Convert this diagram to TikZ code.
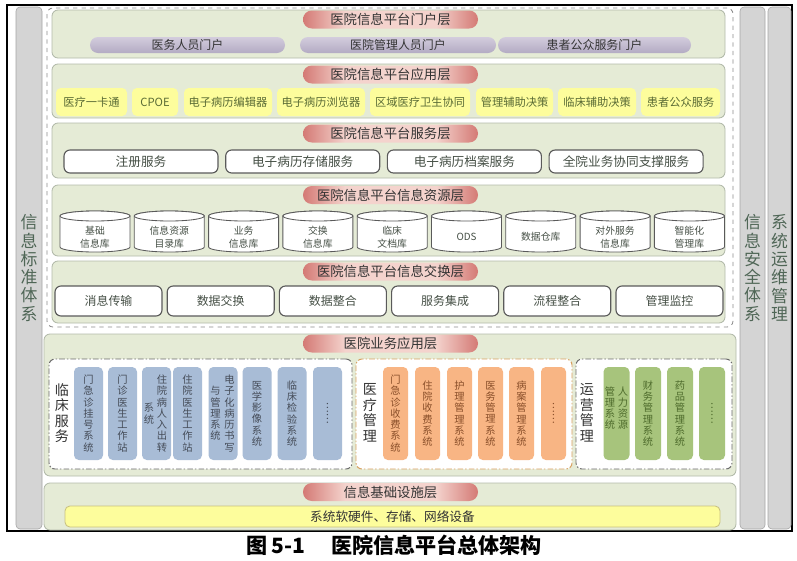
\documentclass[tikz,border=0pt]{standalone}
\usepackage{fontspec}
\setmainfont{Noto Sans CJK SC}
\definecolor{layerfill}{HTML}{E5EBD6}
\definecolor{layerline}{HTML}{B2BAAA}
\definecolor{barfill}{HTML}{D4D4D4}
\definecolor{barline}{HTML}{A4A4A4}
\definecolor{bartext}{HTML}{4F6656}
\definecolor{dashline}{HTML}{8C8C8C}
\definecolor{pillin}{HTML}{F4D3CD}
\definecolor{pillout}{HTML}{D47A75}
\definecolor{titletext}{HTML}{333333}
\definecolor{portaltop}{HTML}{D3CCDD}
\definecolor{portalmid}{HTML}{FAF9FB}
\definecolor{portalbot}{HTML}{B3ABC3}
\definecolor{appfill}{HTML}{FDFD9C}
\definecolor{apptext}{HTML}{5A6B35}
\definecolor{infraline}{HTML}{C8C080}
\definecolor{boxline}{HTML}{5A5A5A}
\definecolor{boxtext}{HTML}{454F45}
\definecolor{grpline}{HTML}{6A6A6A}
\definecolor{orangeline}{HTML}{D8A060}
\definecolor{bluefill}{HTML}{A8BCD6}
\definecolor{bluetext}{HTML}{454C58}
\definecolor{orangefill}{HTML}{F8B584}
\definecolor{orangetext}{HTML}{8A4F2A}
\definecolor{greenfill}{HTML}{A7C47C}
\definecolor{greentext}{HTML}{4E6B2C}
\pgfdeclarehorizontalshading{pillshade}{100bp}{color(0bp)=(pillout);color(25bp)=(pillout);color(37bp)=(pillin);color(63bp)=(pillin);color(75bp)=(pillout);color(100bp)=(pillout)}
\begin{document}
\begin{tikzpicture}[x=0.025cm,y=-0.025cm,inner sep=0pt,outer sep=0pt,align=center,
sz/.style 2 args={minimum width=#1*0.025cm,minimum height=#2*0.025cm},
bar/.style={draw=barline,fill=barfill,rounded corners=0.1cm,text=bartext,font=\fontsize{12}{13}\selectfont},
layer/.style={draw=layerline,fill=layerfill,line width=0.6pt,rounded corners=0.15cm},
title/.style={shade,shading=pillshade,rounded corners=0.22cm,sz={175}{18},text=titletext,font=\fontsize{9.5}{10}\selectfont},
portal/.style={top color=portaltop,middle color=portalmid,bottom color=portalbot,rounded corners=0.2cm,text=titletext,font=\fontsize{8.5}{9}\selectfont},
appbox/.style={fill=appfill,rounded corners=0.12cm,text=apptext,font=\fontsize{8}{9}\selectfont},
sbox/.style={draw=boxline,fill=white,line width=0.8pt,rounded corners=0.15cm,sz={154}{23},text=boxtext,font=\fontsize{9}{10}\selectfont},
xbox/.style={sbox,sz={107}{30},font=\fontsize{8.5}{9}\selectfont},
db/.style={draw=boxline,fill=white,line width=0.6pt},
dbtext/.style={text=boxtext,font=\fontsize{7}{9}\selectfont},
grp/.style={draw=grpline,fill=white,line width=0.7pt,dash pattern=on 4pt off 1.5pt on 1pt off 1.5pt,rounded corners=0.15cm},
glabel/.style={text=titletext,font=\fontsize{10}{11}\selectfont},
vtext/.style={font=\fontsize{7.3}{8}\selectfont},
sysbox/.style={vtext,rounded corners=0.12cm,sz={29}{93}},
bluebox/.style={sysbox,fill=bluefill,text=bluetext},
orangebox/.style={sysbox,fill=orangefill,text=orangetext,sz={25}{93}},
greenbox/.style={sysbox,fill=greenfill,text=greentext,sz={26}{93}}]
\useasboundingbox(0,0)rectangle(797,560);
%frame and side bars
\node[draw=black,line width=0.8pt,sz={785}{526}](frame)at(399.5,268){};
\node[bar,sz={26}{522}](std)at(29,268){信\\息\\标\\准\\体\\系};
\node[bar,sz={25}{522}](sec)at(752.5,268){信\\息\\安\\全\\体\\系};
\node[bar,sz={23}{522}](ops)at(779.5,268){系\\统\\运\\维\\管\\理};
\node[draw=dashline,dashed,line width=0.6pt,rounded corners=0.15cm,sz={686}{319}](platform)at(390,167.5){};
%layers
\node[layer,sz={673}{48}](portal)at(388.5,34){};
\node[layer,sz={673}{54}](app)at(388.5,91){};
\node[layer,sz={673}{55}](service)at(388.5,150.5){};
\node[layer,sz={673}{71}](resource)at(388.5,220.5){};
\node[layer,sz={673}{62}](exchange)at(388.5,292){};
\node[layer,sz={692}{142}](business)at(390,405){};
\node[layer,sz={692}{47}](infra)at(390,506.5){};
\node[title](t1)at(390.5,19.5){医院信息平台门户层};
\node[title](t2)at(390.5,74.5){医院信息平台应用层};
\node[title](t3)at(390.5,133.5){医院信息平台服务层};
\node[title](t4)at(390.5,195){医院信息平台信息资源层};
\node[title](t5)at(390.5,271.5){医院信息平台信息交换层};
\node[title](t6)at(390.5,343.5){医院业务应用层};
\node[title](t7)at(390.5,492){信息基础设施层};
%portal
\foreach \x/\w/\t [count=\i] in {187.5/195/医务人员门户,398/196/医院管理人员门户,594.5/193/患者公众服务门户}
\node[portal,sz={\w}{16}](pt\i)at(\x,45){\t};
%applications
\foreach \x/\w/\t [count=\i] in {91.5/71/医疗一卡通,155/46/CPOE,228/88/电子病历编辑器,321/88/电子病历浏览器,420/100/区域医疗卫生协同,514.5/77/管理辅助决策,597/78/临床辅助决策,680.5/79/患者公众服务}
\node[appbox,sz={\w}{28}](ap\i)at(\x,102){\t};
%services
\foreach \t [count=\i from 0] in {注册服务,电子病历存储服务,电子病历档案服务,全院业务协同支撑服务}
\node[sbox](sv\i)at({141+161.7*\i},161.5){\t};
%databases
\foreach \t [count=\i from 0] in {{基础\\信息库},{信息资源\\目录库},{业务\\信息库},{交换\\信息库},{临床\\文档库},{ODS},{数据仓库},{对外服务\\信息库},{智能化\\管理库}}{
\draw[db]({60+74.3*\i},216)--++(0,31)arc[start angle=180,end angle=360,x radius=0.875cm,y radius=0.125cm]--++(0,-31)arc[start angle=0,end angle=180,x radius=0.875cm,y radius=0.125cm]--cycle;
\draw[db]({95+74.3*\i},216)ellipse[x radius=0.875cm,y radius=0.125cm];
\node[dbtext](db\i)at({95+74.3*\i},237){\t};
}
%exchange
\foreach \t [count=\i from 0] in {消息传输,数据交换,数据整合,服务集成,流程整合,管理监控}
\node[xbox](ex\i)at({108.5+112.2*\i},301){\t};
%business groups
\node[grp,sz={303}{110}](clin)at(200.5,414){};
\node[grp,draw=orangeline,sz={216}{110}](med)at(464,414){};
\node[grp,sz={156}{110}](mgmt)at(654,414){};
\node[glabel](clinl)at(62,413){临\\床\\服\\务};
\node[glabel](medl)at(370,413){医\\疗\\管\\理};
\node[glabel](mgmtl)at(587,413){运\\营\\管\\理};
\foreach \x/\t [count=\i] in {88.5/{门\\急\\诊\\挂\\号\\系\\统},122.5/{门\\诊\\医\\生\\工\\作\\站},156.5/{},187.5/{住\\院\\医\\生\\工\\作\\站},223/{},257/{医\\学\\影\\像\\系\\统},292/{临\\床\\检\\验\\系\\统},327.5/{}}
\node[bluebox](cl\i)at(\x,413.5){\t};
\node[vtext,text=bluetext](cl3a)at(162,413.5){住\\院\\病\\人\\入\\出\\转};
\node[vtext,text=bluetext](cl3b)at(149,413.5){系\\统};
\node[vtext,text=bluetext](cl5a)at(229.5,413.5){电\\子\\化\\病\\历\\书\\写};
\node[vtext,text=bluetext](cl5b)at(215.5,413.5){与\\管\\理\\系\\统};
\node[vtext,text=bluetext,rotate=90](cl8d)at(cl8){……};
\foreach \x/\t [count=\i] in {395.5/{门\\急\\诊\\收\\费\\系\\统},427.5/{住\\院\\收\\费\\系\\统},459.5/{护\\理\\管\\理\\系\\统},490.5/{医\\务\\管\\理\\系\\统},521.5/{病\\案\\管\\理\\系\\统},553.5/{}}
\node[orangebox](md\i)at(\x,413.5){\t};
\node[vtext,text=orangetext,rotate=90](md6d)at(md6){……};
\foreach \x/\t [count=\i] in {616.5/{},648/{财\\务\\管\\理\\系\\统},680/{药\\品\\管\\理\\系\\统},712/{}}
\node[greenbox](op\i)at(\x,413.5){\t};
\node[vtext,text=greentext](op1a)at(623,408){人\\力\\资\\源};
\node[vtext,text=greentext](op1b)at(610,408){管\\理\\系\\统};
\node[vtext,text=greentext,rotate=90](op4d)at(op4){……};
%infrastructure
\node[appbox,draw=infraline,line width=0.6pt,sz={655}{21},text=titletext,font=\fontsize{9}{10}\selectfont](hw)at(392.5,516.5){系统软硬件、存储、网络设备};
%caption
\node[font=\fontsize{15}{16}\bfseries\selectfont](cap)at(394,545){图 5-1\hspace{1.2em}医院信息平台总体架构};
\end{tikzpicture}
\end{document}
